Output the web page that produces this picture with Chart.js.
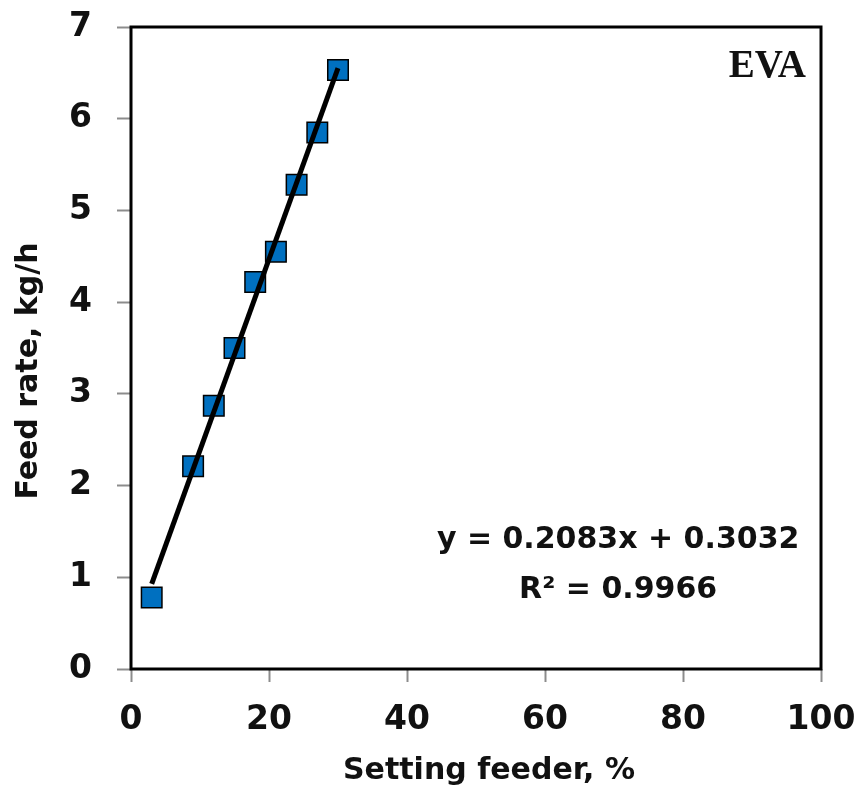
<!DOCTYPE html>
<html>
<head>
<meta charset="utf-8">
<script src="https://cdn.jsdelivr.net/npm/chart.js@4.4.1/dist/chart.umd.min.js"></script>
<style>
  html, body { margin: 0; padding: 0; background: #fff; }
  #wrap { width: 861px; height: 799px; }
</style>
</head>
<body>
<div id="wrap"><canvas id="feedChart"></canvas></div>
<script>
// measured feed rate vs. feeder setting
const settingFeeder = [3, 9, 12, 15, 18, 21, 24, 27, 30];
const feedRate = [0.78, 2.21, 2.87, 3.50, 4.22, 4.55, 5.28, 5.85, 6.53];

// linear fit
const fitSlope = 0.2083;
const fitIntercept = 0.3032;
const fitR2 = 0.9966;

const xTicks = [0, 20, 40, 60, 80, 100];
const yTicks = [0, 1, 2, 3, 4, 5, 6, 7];

const xTitle = "Setting feeder, %";
const yTitle = "Feed rate, kg/h";

const sans = "'DejaVu Sans', sans-serif";
const textColor = "#111";

const points = settingFeeder.map((x, i) => ({ x: x, y: feedRate[i] }));
const xFirst = settingFeeder[0];
const xLast = settingFeeder[settingFeeder.length - 1];
const fitLine = [xFirst, xLast].map((x) => ({ x: x, y: fitSlope * x + fitIntercept }));

// black box round the plot area
const frame = {
  id: "frame",
  beforeDatasetsDraw(chart) {
    const { ctx, chartArea: a } = chart;
    ctx.save();
    ctx.strokeStyle = "#000";
    ctx.lineWidth = 3;
    ctx.strokeRect(a.left, a.top, a.right - a.left, a.bottom - a.top);
    ctx.restore();
  },
};

// axis titles (a little off-centre, like the original sheet), sample label, fit equation
const notes = {
  id: "notes",
  afterDraw(chart) {
    const { ctx, chartArea: a, scales } = chart;
    ctx.save();
    ctx.fillStyle = textColor;

    ctx.font = "bold 30px " + sans;
    ctx.textAlign = "center";
    ctx.textBaseline = "middle";
    ctx.fillText(xTitle, (a.left + a.right) / 2 + 13, a.bottom + 102);

    ctx.save();
    ctx.translate(a.left - 102, (a.top + a.bottom) / 2 + 23);
    ctx.rotate(-Math.PI / 2);
    ctx.fillText(yTitle, 0, 0);
    ctx.restore();

    const cx = scales.x.getPixelForValue(70.6);
    ctx.fillText("y = " + fitSlope.toFixed(4) + "x + " + fitIntercept.toFixed(4), cx, scales.y.getPixelForValue(1.40));
    ctx.fillText("R\u00b2 = " + fitR2.toFixed(4), cx, scales.y.getPixelForValue(0.86));

    ctx.font = "bold 39px 'Liberation Serif', serif";
    ctx.textAlign = "right";
    ctx.textBaseline = "alphabetic";
    ctx.fillText("EVA", a.right - 15, a.top + 50);
    ctx.restore();
  },
};

new Chart(document.getElementById("feedChart"), {
  type: "scatter",
  data: {
    datasets: [
      {
        label: "Linear fit",
        data: fitLine,
        showLine: true,
        borderColor: "#000",
        borderWidth: 5,
        pointRadius: 0,
        fill: false,
      },
      {
        label: "EVA",
        data: points,
        pointStyle: "rect",
        pointRadius: 14.5,
        pointHoverRadius: 14.5,
        backgroundColor: "#0070C0",
        borderColor: "#000",
        borderWidth: 1.5,
      },
    ],
  },
  options: {
    responsive: true,
    maintainAspectRatio: false,
    animation: false,
    layout: { padding: { left: 0, right: 40, top: 27, bottom: 0 } },
    plugins: {
      legend: { display: false },
      tooltip: { enabled: false },
    },
    scales: {
      x: {
        type: "linear",
        min: 0,
        max: 100,
        afterBuildTicks: (s) => { s.ticks = xTicks.map((v) => ({ value: v })); },
        afterFit: (s) => { s.height = 130; s.paddingLeft = 0; s.paddingRight = 0; },
        border: { display: false },
        grid: { drawOnChartArea: false, drawTicks: true, tickLength: 13, tickColor: "#8c8c8c", tickWidth: 2 },
        ticks: { color: textColor, font: { family: sans, size: 33, weight: "bold" }, padding: 19, maxRotation: 0 },
      },
      y: {
        type: "linear",
        min: 0,
        max: 7,
        afterBuildTicks: (s) => { s.ticks = yTicks.map((v) => ({ value: v })); },
        afterFit: (s) => { s.width = 131; s.paddingTop = 0; s.paddingBottom = 0; },
        border: { display: false },
        grid: { drawOnChartArea: false, drawTicks: true, tickLength: 14, tickColor: "#8c8c8c", tickWidth: 2 },
        ticks: { color: textColor, font: { family: sans, size: 33, weight: "bold" }, padding: 25 },
      },
    },
  },
  plugins: [frame, notes],
});
</script>
</body>
</html>
